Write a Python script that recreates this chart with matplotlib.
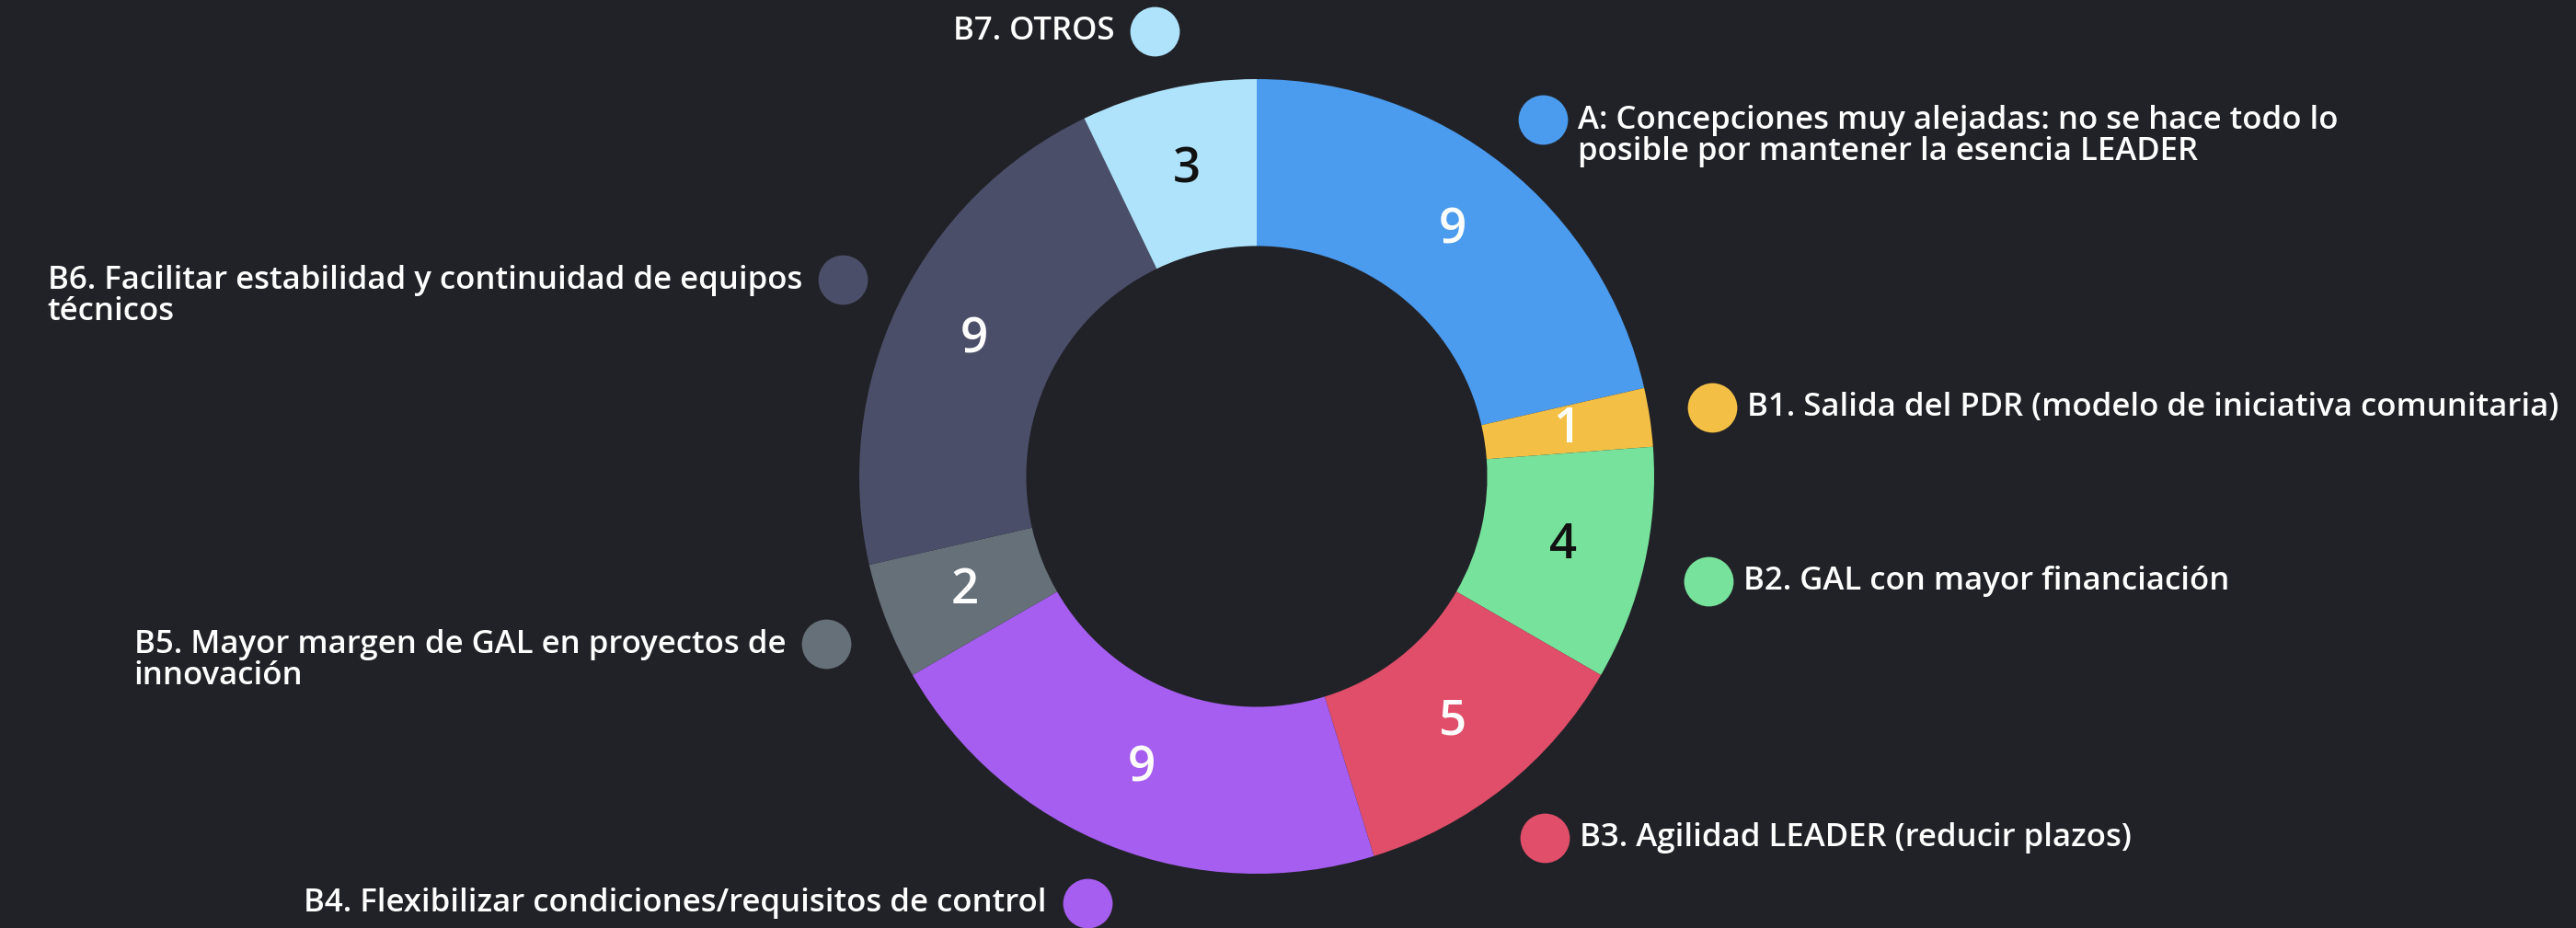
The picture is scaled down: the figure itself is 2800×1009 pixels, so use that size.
import matplotlib.pyplot as plt

W, H = 2800, 1009
BG = "#212227"

labels = [
    "A: Concepciones muy alejadas: no se hace todo lo\nposible por mantener la esencia LEADER",
    "B1. Salida del PDR (modelo de iniciativa comunitaria)",
    "B2. GAL con mayor financiación",
    "B3. Agilidad LEADER (reducir plazos)",
    "B4. Flexibilizar condiciones/requisitos de control",
    "B5. Mayor margen de GAL en proyectos de\ninnovación",
    "B6. Facilitar estabilidad y continuidad de equipos\ntécnicos",
    "B7. OTROS",
]
values = [9, 1, 4, 5, 9, 2, 9, 3]
colors = ["#4b9bee", "#f3bf45", "#77e29b", "#e04e69", "#a65ef1", "#667079", "#4b4e69", "#aee3fb"]
num_colors = ["white", "white", "#111111", "white", "white", "white", "white", "#111111"]

# legend dot positions (pixels from top-left) and which side the text goes
dot_pos = [(1677, 130), (1861, 443), (1857, 632), (1679, 911),
           (1182, 982), (898, 700), (916, 304), (1255, 34)]
side = ["r", "r", "r", "r", "l", "l", "l", "l"]

fig = plt.figure(figsize=(W / 100, H / 100), dpi=100, facecolor=BG)
ax = fig.add_axes([0, 0, 1, 1])
ax.set_facecolor(BG)

cx, cy, R = 1366, H - 518, 432
wedges, texts = ax.pie(
    values, colors=colors, startangle=90, counterclock=False,
    center=(cx, cy), radius=R, frame=True,
    wedgeprops=dict(width=R * 0.42, linewidth=0),
    labels=[str(v) for v in values], labeldistance=0.79,
    textprops=dict(fontsize=38, fontfamily="Open Sans", fontweight="semibold"),
)
for t, c in zip(texts, num_colors):
    t.set_color(c)
    t.set_ha("center")
    t.set_va("center")
ax.set_xlim(0, W)
ax.set_ylim(0, H)
ax.set_aspect("equal")
ax.axis("off")

LINE = 36  # px between text lines
for lab, col, (px, py), s in zip(labels, colors, dot_pos, side):
    y = H - py
    ax.scatter([px], [y], s=1500, color=col, zorder=3, linewidths=0)
    ty = y - lab.count("\n") * LINE / 2
    if s == "r":
        ax.text(px + 38, ty, lab, color="white", fontsize=25,
                fontfamily="Open Sans", fontweight="semibold", ha="left",
                va="center", linespacing=0.98)
    else:
        ax.text(px - 44, ty, lab, color="white", fontsize=25,
                fontfamily="Open Sans", fontweight="semibold", ha="right",
                va="center", multialignment="left", linespacing=0.98)

fig.savefig("out.png", dpi=100, facecolor=BG)
